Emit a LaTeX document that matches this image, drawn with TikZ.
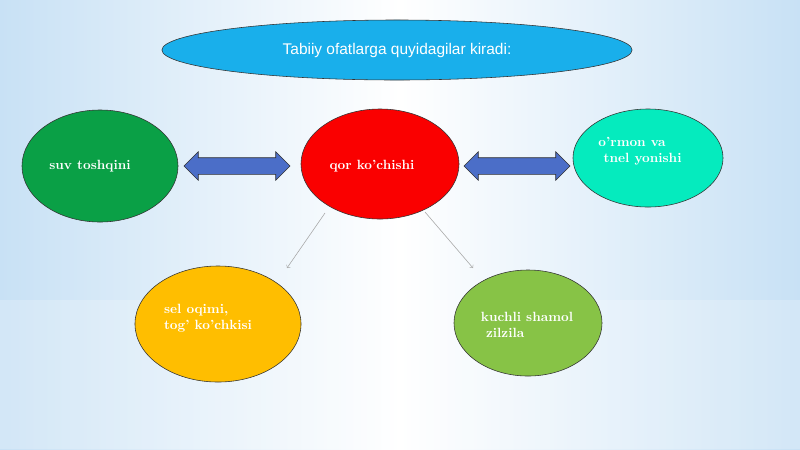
\documentclass[tikz,border=0pt]{standalone}
\usepackage{fontspec}
\setsansfont{Liberation Sans}
\usetikzlibrary{shapes.geometric,shapes.arrows}
\definecolor{titleblue}{RGB}{25,175,235}
\definecolor{hazgreen}{RGB}{10,160,70}
\definecolor{hazred}{RGB}{250,0,0}
\definecolor{hazcyan}{RGB}{5,235,190}
\definecolor{hazorange}{RGB}{255,190,0}
\definecolor{hazlime}{RGB}{135,195,70}
\definecolor{arrowblue}{RGB}{75,110,200}
\definecolor{skyblue}{RGB}{200,225,245}
\begin{document}
\begin{tikzpicture}[x=0.025cm,y=-0.025cm]
	%
	% `hazard' is used for the ellipses, `caption' for their texts.
	\tikzstyle{hazard} = [draw=black!80,shape=ellipse,inner sep=0pt]
	\tikzstyle{caption} = [text=white,font=\bfseries\fontsize{9.5}{11}\selectfont,align=left]
	\tikzstyle{link} = [draw=black!80,fill=arrowblue,double arrow,double arrow head extend=0.15cm,minimum height=2.65cm,text height=0.2cm,text depth=0.2cm,inner sep=0pt]
	\tikzstyle{pointer} = [->,gray!70,thin]
	%
	% Background
	\shade[left color=skyblue,right color=skyblue,middle color=white] (0,0) rectangle (800,449);
	\fill[white,opacity=0.2] (0,300) rectangle (800,449);
	%
	% Title
	\node[draw=black!80,fill=titleblue,ellipse,minimum width=11.75cm,minimum height=1.5cm] (title) at (397,50) {};
	\node[text=white,font=\sffamily\fontsize{11}{13}\selectfont] (titletext) at (397,50) {Tabiiy ofatlarga quyidagilar kiradi:};
	%
	% Hazards
	\node[hazard,fill=hazgreen,minimum width=3.9cm,minimum height=2.8cm] (flood) at (100,166) {};
	\node[caption] (floodtext) at (90,166) {suv toshqini};
	\node[hazard,fill=hazred,minimum width=3.95cm,minimum height=2.75cm] (snow) at (380,164) {};
	\node[caption] (snowtext) at (372,166) {qor ko'chishi};
	\node[hazard,fill=hazcyan,minimum width=3.75cm,minimum height=2.45cm] (fire) at (648,158) {};
	\node[caption] (firetext) at (640,151) {o'rmon va\\ \ tnel yonishi};
	\node[hazard,fill=hazorange,minimum width=4.15cm,minimum height=2.9cm] (mud) at (218,324) {};
	\node[caption] (mudtext) at (208,318) {sel oqimi,\\tog' ko'chkisi};
	\node[hazard,fill=hazlime,minimum width=3.7cm,minimum height=2.65cm] (wind) at (528,323) {};
	\node[caption] (windtext) at (527,325) {kuchli shamol\\ \ zilzila};
	%
	% Connectors
	\node[link] (leftlink) at (237,166) {};
	\node[link] (rightlink) at (517,166) {};
	\coordinate (snowleft) at (325,213);
	\coordinate (snowright) at (425,212);
	\coordinate (mudend) at (287,268);
	\coordinate (windend) at (473,268);
	\draw[pointer] (snowleft) -- (mudend);
	\draw[pointer] (snowright) -- (windend);
	%
\end{tikzpicture}
\end{document}
